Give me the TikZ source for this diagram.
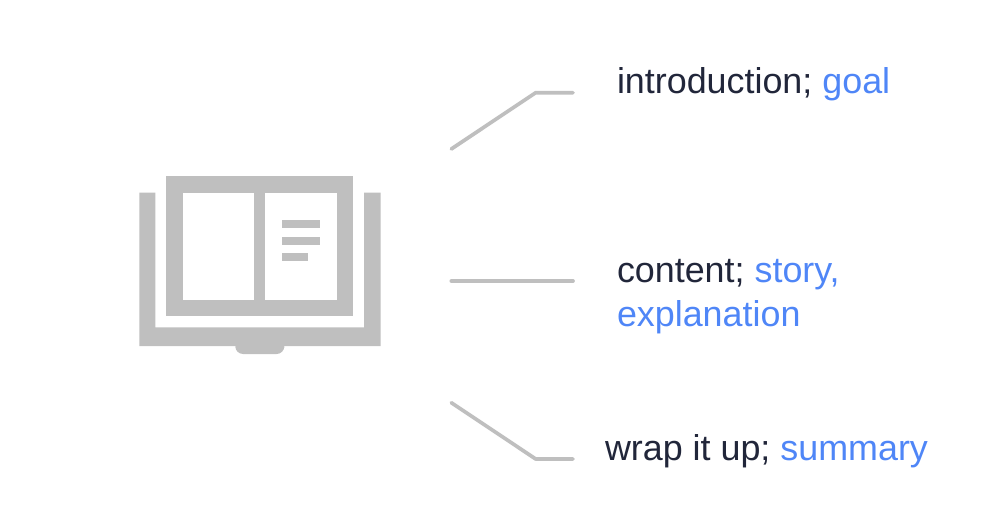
\documentclass[tikz,border=0pt]{standalone}
\usepackage{fontspec}
\setmainfont{Liberation Sans}
\definecolor{bookgrey}{HTML}{BFBFBF}
\definecolor{textdark}{HTML}{21263A}
\definecolor{textblue}{HTML}{4F86F7}
\tikzset{
	booksolid/.style={fill=bookgrey, draw=none},
	pageblank/.style={fill=white, draw=none},
	leader/.style={draw=bookgrey, line width=1.05pt, line cap=round, line join=round},
	caption/.style={inner sep=0pt, outer sep=0pt, text=textdark, align=left, font=\fontsize{10.2pt}{12.52pt}\selectfont}
}
\newcommand{\keyword}[1]{\textcolor{textblue}{#1}}

\begin{document}
\begin{tikzpicture}[x=0.01cm, y=-0.01cm]
	\useasboundingbox (0,0) rectangle (1000,530);
	% book cover
	\fill [booksolid] (139.3,192.7) -- (155.3,192.7) -- (155.3,327.3) -- (364,327.3) -- (364,192.7) -- (380.7,192.7) -- (380.7,346) -- (139.3,346) -- cycle;
	\fill [booksolid, rounded corners=2.2pt] (235.3,340) -- (235.3,354) -- (284.3,354) -- (284.3,340) -- cycle;
	% pages
	\fill [booksolid] (166.3,176) rectangle (352.7,315.7);
	\fill [pageblank] (183,192.7) rectangle (254.3,299.7);
	\fill [pageblank] (265.3,192.7) rectangle (336.7,299.7);
	\fill [booksolid] (282,220.3) rectangle (320,228.3);
	\fill [booksolid] (282,237) rectangle (320,245);
	\fill [booksolid] (282,253.3) rectangle (308.3,261.3);
	% leaders
	\coordinate (introstart) at (451.3,149);
	\coordinate (introbend) at (535.7,92.7);
	\coordinate (introend) at (573,92.7);
	\coordinate (contentstart) at (451.3,281);
	\coordinate (contentend) at (573,281);
	\coordinate (wrapstart) at (451.3,402.7);
	\coordinate (wrapbend) at (535.7,459);
	\coordinate (wrapend) at (573,459);
	\draw [leader] (introstart) -- (introbend) -- (introend);
	\draw [leader] (contentstart) -- (contentend);
	\draw [leader] (wrapstart) -- (wrapbend) -- (wrapend);
	% captions
	\node [caption, anchor=base west] (intro) at (617,93) {introduction; \keyword{goal}};
	\node [caption, anchor=west] (content) at (617,297) {content; \keyword{story,}\\ \keyword{explanation}};
	\node [caption, anchor=base west] (wrap) at (605,460) {wrap it up; \keyword{summary}};
\end{tikzpicture}
\end{document}
